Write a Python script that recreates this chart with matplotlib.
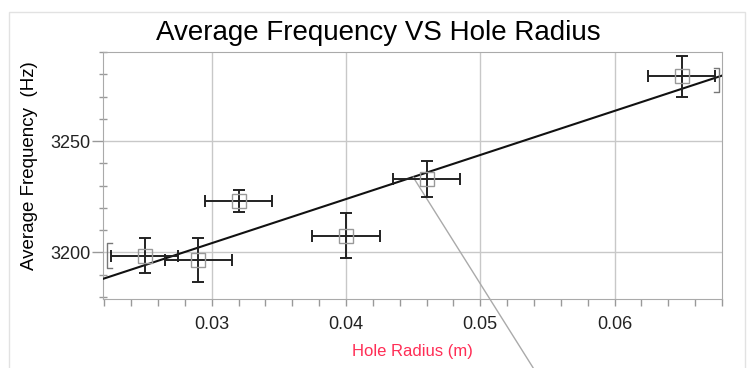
#Average frequency vs hole radius

import numpy as np
import matplotlib.pyplot as plt
from matplotlib.patches import Rectangle

plt.rcParams['font.family'] = ['Liberation Sans', 'DejaVu Sans']

#Data.
radius = [0.025, 0.029, 0.032, 0.040, 0.046, 0.065]
freq = [3198.5, 3196.5, 3223.0, 3207.5, 3233.0, 3279.0]
radius_err = [0.0025, 0.0025, 0.0025, 0.0025, 0.0025, 0.0025]
freq_err = [8, 10, 5, 10, 8, 9]

x_ticks = [0.03, 0.04, 0.05, 0.06]
y_ticks = [3200, 3250]

#Brackets at the ends of the fit (x, low, high).
bracket_left = [0.0222, 3193, 3204]
bracket_right = [0.0678, 3272, 3283]

#Linear fit.
slope, intercept = np.polyfit(radius, freq, 1)
x_min, x_max = 0.0219, 0.068
x_fit = np.array([x_min, x_max])
y_fit = slope * x_fit + intercept

fig = plt.figure(figsize=(7.5, 3.68), dpi=100)
ax = fig.add_axes([0.1373, 0.1875, 0.8253, 0.6712])

grid_col = '#c8c8c8'
ax.grid(True, which='major', color=grid_col, lw=1)
ax.set_axisbelow(True)

ax.plot(x_fit, y_fit, color='#111111', lw=1.5, zorder=3)

ax.errorbar(radius, freq, xerr=radius_err, yerr=freq_err, fmt='none',
            ecolor='#222222', elinewidth=1.4, capsize=4, capthick=1.4, zorder=4)
ax.plot(radius, freq, 's', ms=10, mfc='none', mec='#999999', mew=1, zorder=5)

#End brackets.
dx = 0.0004
bx, lo, hi = bracket_left
ax.plot([bx + dx, bx, bx, bx + dx], [lo, lo, hi, hi], color='#777777', lw=1, zorder=3)
bx, lo, hi = bracket_right
ax.plot([bx - dx, bx, bx, bx - dx], [lo, lo, hi, hi], color='#777777', lw=1, zorder=3)

#Callout leader line.
x_lead = 0.045
ax.annotate('', xy=(x_lead, slope * x_lead + intercept), xycoords='data',
            xytext=(0.711, 0.0), textcoords='figure fraction',
            arrowprops=dict(arrowstyle='-', color='#aaaaaa', lw=1,
                            shrinkA=0, shrinkB=0), annotation_clip=False)

ax.set_xlim(x_min, x_max)
ax.set_ylim(3179, 3290)
ax.set_xticks(x_ticks)
ax.set_xticklabels([f'{t:.2f}' for t in x_ticks])
ax.set_yticks(y_ticks)
ax.set_xticks(np.arange(0.022, 0.0681, 0.002), minor=True)
ax.set_yticks(np.arange(3180, 3291, 10), minor=True)

for s in ax.spines.values():
    s.set_color('#aaaaaa')
ax.tick_params(which='both', colors='#999999', labelcolor='#222222', labelsize=13,
               length=5, width=1)
ax.tick_params(axis='x', pad=7)
ax.tick_params(axis='y', which='major', length=8, pad=1)
ax.tick_params(axis='y', which='minor', direction='inout', length=6)

fig.text(0.504, 0.91, 'Average Frequency VS Hole Radius', fontsize=20,
         ha='center', va='center')
fig.text(0.039, 0.549, 'Average Frequency  (Hz)', fontsize=13.5,
         rotation=90, ha='center', va='center')
ax.set_xlabel('Hole Radius (m)', fontsize=12, color='#ff2d55', labelpad=8)

#Panel border.
fig.patches.append(Rectangle((0.012, -0.01), 0.981, 0.977, transform=fig.transFigure,
                             fill=False, edgecolor='#e2e2e2', lw=1))

plt.savefig('out.png', dpi=100)
